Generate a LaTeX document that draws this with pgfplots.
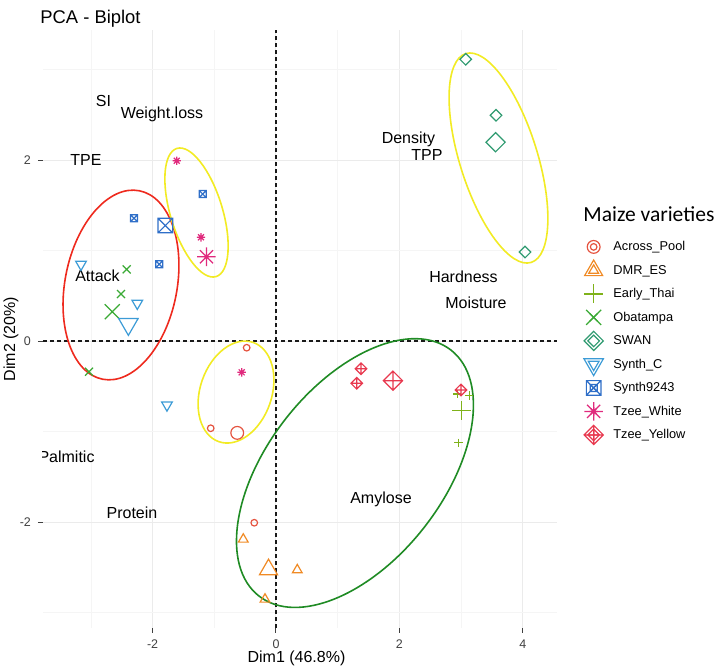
\documentclass[border=0pt]{standalone}
\usepackage{pgfplots}
\pgfplotsset{compat=1.18}
\usepackage{fontspec}
\setmainfont{Liberation Sans}
\newfontfamily\carlito{Carlito}

\definecolor{acrossc}{HTML}{E5533F}
\definecolor{dmrc}{HTML}{F08A24}
\definecolor{thaic}{HTML}{7FB21A}
\definecolor{obac}{HTML}{3AAA35}
\definecolor{swanc}{HTML}{2E9A70}
\definecolor{synthcc}{HTML}{3C9BD6}
\definecolor{snnc}{HTML}{2F6FC8}
\definecolor{tzwc}{HTML}{E02A7D}
\definecolor{tzyc}{HTML}{E8394F}
\definecolor{ellred}{HTML}{EE2A1E}
\definecolor{ellyel}{HTML}{F2EB24}
\definecolor{ellgrn}{HTML}{1F8B24}

\pgfdeclareplotmark{dtri}{%
  \pgfpathmoveto{\pgfqpoint{0pt}{-\pgfplotmarksize}}%
  \pgfpathlineto{\pgfqpointpolar{30}{\pgfplotmarksize}}%
  \pgfpathlineto{\pgfqpointpolar{150}{\pgfplotmarksize}}%
  \pgfpathclose\pgfusepathqstroke}
\pgfdeclareplotmark{dmd}{%
  \pgfpathmoveto{\pgfqpoint{0pt}{\pgfplotmarksize}}%
  \pgfpathlineto{\pgfqpoint{\pgfplotmarksize}{0pt}}%
  \pgfpathlineto{\pgfqpoint{0pt}{-\pgfplotmarksize}}%
  \pgfpathlineto{\pgfqpoint{-\pgfplotmarksize}{0pt}}%
  \pgfpathclose\pgfusepathqstroke}
\pgfdeclareplotmark{dmdplus}{%
  \pgfpathmoveto{\pgfqpoint{0pt}{\pgfplotmarksize}}%
  \pgfpathlineto{\pgfqpoint{\pgfplotmarksize}{0pt}}%
  \pgfpathlineto{\pgfqpoint{0pt}{-\pgfplotmarksize}}%
  \pgfpathlineto{\pgfqpoint{-\pgfplotmarksize}{0pt}}%
  \pgfpathclose
  \pgfpathmoveto{\pgfqpoint{0pt}{\pgfplotmarksize}}%
  \pgfpathlineto{\pgfqpoint{0pt}{-\pgfplotmarksize}}%
  \pgfpathmoveto{\pgfqpoint{-\pgfplotmarksize}{0pt}}%
  \pgfpathlineto{\pgfqpoint{\pgfplotmarksize}{0pt}}%
  \pgfusepathqstroke}
\pgfdeclareplotmark{boxx}{%
  \pgfpathrectangle{\pgfqpoint{-\pgfplotmarksize}{-\pgfplotmarksize}}{\pgfqpoint{2\pgfplotmarksize}{2\pgfplotmarksize}}%
  \pgfpathmoveto{\pgfqpoint{-\pgfplotmarksize}{-\pgfplotmarksize}}%
  \pgfpathlineto{\pgfqpoint{\pgfplotmarksize}{\pgfplotmarksize}}%
  \pgfpathmoveto{\pgfqpoint{-\pgfplotmarksize}{\pgfplotmarksize}}%
  \pgfpathlineto{\pgfqpoint{\pgfplotmarksize}{-\pgfplotmarksize}}%
  \pgfusepathqstroke}
\pgfdeclareplotmark{ast8}{%
  \pgfpathmoveto{\pgfqpoint{0pt}{\pgfplotmarksize}}%
  \pgfpathlineto{\pgfqpoint{0pt}{-\pgfplotmarksize}}%
  \pgfpathmoveto{\pgfqpoint{-\pgfplotmarksize}{0pt}}%
  \pgfpathlineto{\pgfqpoint{\pgfplotmarksize}{0pt}}%
  \pgfpathmoveto{\pgfqpoint{-.7071\pgfplotmarksize}{-.7071\pgfplotmarksize}}%
  \pgfpathlineto{\pgfqpoint{.7071\pgfplotmarksize}{.7071\pgfplotmarksize}}%
  \pgfpathmoveto{\pgfqpoint{-.7071\pgfplotmarksize}{.7071\pgfplotmarksize}}%
  \pgfpathlineto{\pgfqpoint{.7071\pgfplotmarksize}{-.7071\pgfplotmarksize}}%
  \pgfusepathqstroke}

\pgfplotsset{
  pts/.style n args={3}{only marks, forget plot, color=#1, mark=#2, mark size=#3,
    mark options={line width=0.6pt, solid}},
  leg/.style n args={4}{legend image code/.code={%
      \draw[#1, line width=0.6pt, mark=#2, mark size=#3, only marks] plot coordinates {(0pt,0pt)};
      \draw[#1, line width=0.6pt, mark=#2, mark size=#4, only marks] plot coordinates {(0pt,0pt)};}},
}

\begin{document}
\begin{tikzpicture}
\useasboundingbox (-21.5pt,-22pt) rectangle (336pt,314pt);
\begin{axis}[
  x=30.85pt, y=45.25pt,
  xmin=-3.776, xmax=4.554, ymin=-3.171, ymax=3.436,
  axis line style={draw=none},
  tick pos=left, tick align=outside,
  major tick length=2.5pt, minor tick length=0pt,
  major tick style={black!75, line width=0.5pt},
  xtick={-2,0,2,4}, xticklabels={-2,0,2,4},
  ytick={-2,0,2}, yticklabels={-2,0,2},
  minor xtick={-3,-1,1,3}, minor ytick={-3,-1,1,3},
  grid=both,
  major grid style={black!8, line width=0.5pt},
  minor grid style={black!4, line width=0.35pt},
  ticklabel style={font=\fontsize{6.25}{7}\selectfont, text=black!75},
  xlabel={Dim1 (46.8\%)}, ylabel={Dim2 (20\%)},
  label style={font=\fontsize{8}{9}\selectfont, text=black},
  xlabel style={at={(axis description cs:0.4932,-0.0502)}, anchor=center},
  ylabel style={at={(axis description cs:-0.0623,0.4833)}, anchor=center},
  legend style={at={(axis description cs:1.0525,0.657)}, anchor=north west,
    draw=none, fill=none, inner sep=0pt, outer sep=0pt, row sep=0pt, column sep=5pt,
    font=\fontsize{6.4}{7.5}\selectfont,
    nodes={inner sep=0pt, text height=7.75pt, text depth=4pt}},
  legend cell align=left,
]
% reference lines
\addplot[forget plot, black!90, line width=0.65pt, dash pattern=on 2pt off 1.5pt] coordinates {(0,-3.171) (0,3.436)};
\addplot[forget plot, black!90, line width=0.65pt, dash pattern=on 2pt off 1.5pt] coordinates {(-3.776,0) (4.554,0)};

% ellipses
\draw[ellred, line width=0.8pt, rotate around={-11:(axis cs:-2.512,0.619)}] (axis cs:-2.512,0.619) ellipse [x radius=28pt, y radius=48pt];
\draw[ellyel, line width=0.8pt, rotate around={17:(axis cs:-1.288,1.420)}] (axis cs:-1.288,1.420) ellipse [x radius=13pt, y radius=33.5pt];
\draw[ellyel, line width=0.8pt, rotate around={-19:(axis cs:-0.648,-0.564)}] (axis cs:-0.648,-0.564) ellipse [x radius=17.9pt, y radius=26.25pt];
\draw[ellyel, line width=0.8pt, rotate around={17.4:(axis cs:3.606,2.022)}] (axis cs:3.606,2.022) ellipse [x radius=19.4pt, y radius=54.7pt];
\draw[ellgrn, line width=0.8pt, rotate around={-38:(axis cs:1.280,-1.459)}] (axis cs:1.280,-1.459) ellipse [x radius=44pt, y radius=78pt];

% variable labels
\begin{scope}[every node/.style={font=\fontsize{8}{9}\selectfont, text=black, inner sep=0pt}]
\node at (axis cs:-2.796,2.652) {SI};
\node at (axis cs:-1.848,2.508) {Weight.loss};
\node at (axis cs:-3.079,2.000) {TPE};
\node at (axis cs:-2.893,0.718) {Attack};
\node at (axis cs:2.147,2.232) {Density};
\node at (axis cs:2.447,2.055) {TPP};
\node at (axis cs:3.039,0.707) {Hardness};
\node at (axis cs:3.241,0.420) {Moisture};
\node at (axis cs:-3.395,-1.282) {Palmitic};
\node at (axis cs:-2.334,-1.900) {Protein};
\node at (axis cs:1.702,-1.746) {Amylose};
\end{scope}

% Across_Pool
\addplot[pts={acrossc}{o}{1.65pt}] coordinates {(-0.475,-0.074) (-1.058,-0.964) (-0.352,-2.008)};
\addplot[pts={acrossc}{o}{3.2pt}] coordinates {(-0.628,-1.015)};
% DMR_ES
\addplot[pts={dmrc}{triangle}{2.8pt}] coordinates {(-0.530,-2.191) (0.345,-2.530) (-0.178,-2.854)};
\addplot[pts={dmrc}{triangle}{5.2pt}] coordinates {(-0.121,-2.525)};
% Early_Thai
\addplot[pts={thaic}{+}{2.1pt}] coordinates {(2.938,-0.586) (3.133,-0.604) (2.955,-1.124)};
\addplot[pts={thaic}{+}{4.75pt}] coordinates {(3.009,-0.771)};
% Obatampa
\addplot[pts={obac}{x}{2.83pt}] coordinates {(-2.420,0.792) (-2.512,0.519) (-3.031,-0.339)};
\addplot[pts={obac}{x}{5.3pt}] coordinates {(-2.654,0.324)};
% SWAN
\addplot[pts={swanc}{dmd}{2.9pt}] coordinates {(3.075,3.113) (3.566,2.494) (4.036,0.983)};
\addplot[pts={swanc}{dmd}{4.8pt}] coordinates {(3.559,2.197)};
% Synth_C
\addplot[pts={synthcc}{dtri}{3.1pt}] coordinates {(-3.160,0.848) (-2.248,0.417) (-1.767,-0.707)};
\addplot[pts={synthcc}{dtri}{5.6pt}] coordinates {(-2.392,0.186)};
% Synth9243
\addplot[pts={snnc}{boxx}{1.75pt}] coordinates {(-1.188,1.624) (-2.301,1.356) (-1.891,0.848)};
\addplot[pts={snnc}{boxx}{3.65pt}] coordinates {(-1.793,1.276)};
% Tzee_White
\addplot[pts={tzwc}{ast8}{2.1pt}] coordinates {(-1.609,1.992) (-1.216,1.146) (-0.556,-0.346)};
\addplot[pts={tzwc}{ast8}{4.65pt}] coordinates {(-1.127,0.931)};
% Tzee_Yellow
\addplot[pts={tzyc}{dmdplus}{2.9pt}] coordinates {(1.378,-0.306) (1.308,-0.467) (2.998,-0.541)};
\addplot[pts={tzyc}{dmdplus}{4.8pt}] coordinates {(1.895,-0.438)};

% legend
\addlegendimage{leg={acrossc}{o}{3.2pt}{1.65pt}}
\addlegendentry{Across\_Pool}
\addlegendimage{leg={dmrc}{triangle}{5.2pt}{2.8pt}}
\addlegendentry{DMR\_ES}
\addlegendimage{leg={thaic}{+}{4.75pt}{2.1pt}}
\addlegendentry{Early\_Thai}
\addlegendimage{leg={obac}{x}{5.3pt}{2.83pt}}
\addlegendentry{Obatampa}
\addlegendimage{leg={swanc}{dmd}{4.8pt}{2.9pt}}
\addlegendentry{SWAN}
\addlegendimage{leg={synthcc}{dtri}{5.6pt}{3.1pt}}
\addlegendentry{Synth\_C}
\addlegendimage{leg={snnc}{boxx}{3.65pt}{1.75pt}}
\addlegendentry{Synth9243}
\addlegendimage{leg={tzwc}{ast8}{4.65pt}{2.1pt}}
\addlegendentry{Tzee\_White}
\addlegendimage{leg={tzyc}{dmdplus}{4.8pt}{2.9pt}}
\addlegendentry{Tzee\_Yellow}
\end{axis}
\node[anchor=base west, inner sep=0pt, font=\fontsize{9.2}{11}\selectfont] at (-1.5pt,302pt) {PCA - Biplot};
\node[anchor=base west, inner sep=0pt, font=\carlito\fontsize{10.75}{12}\selectfont] at (270pt,203pt) {Maize varieties};
\end{tikzpicture}
\end{document}
